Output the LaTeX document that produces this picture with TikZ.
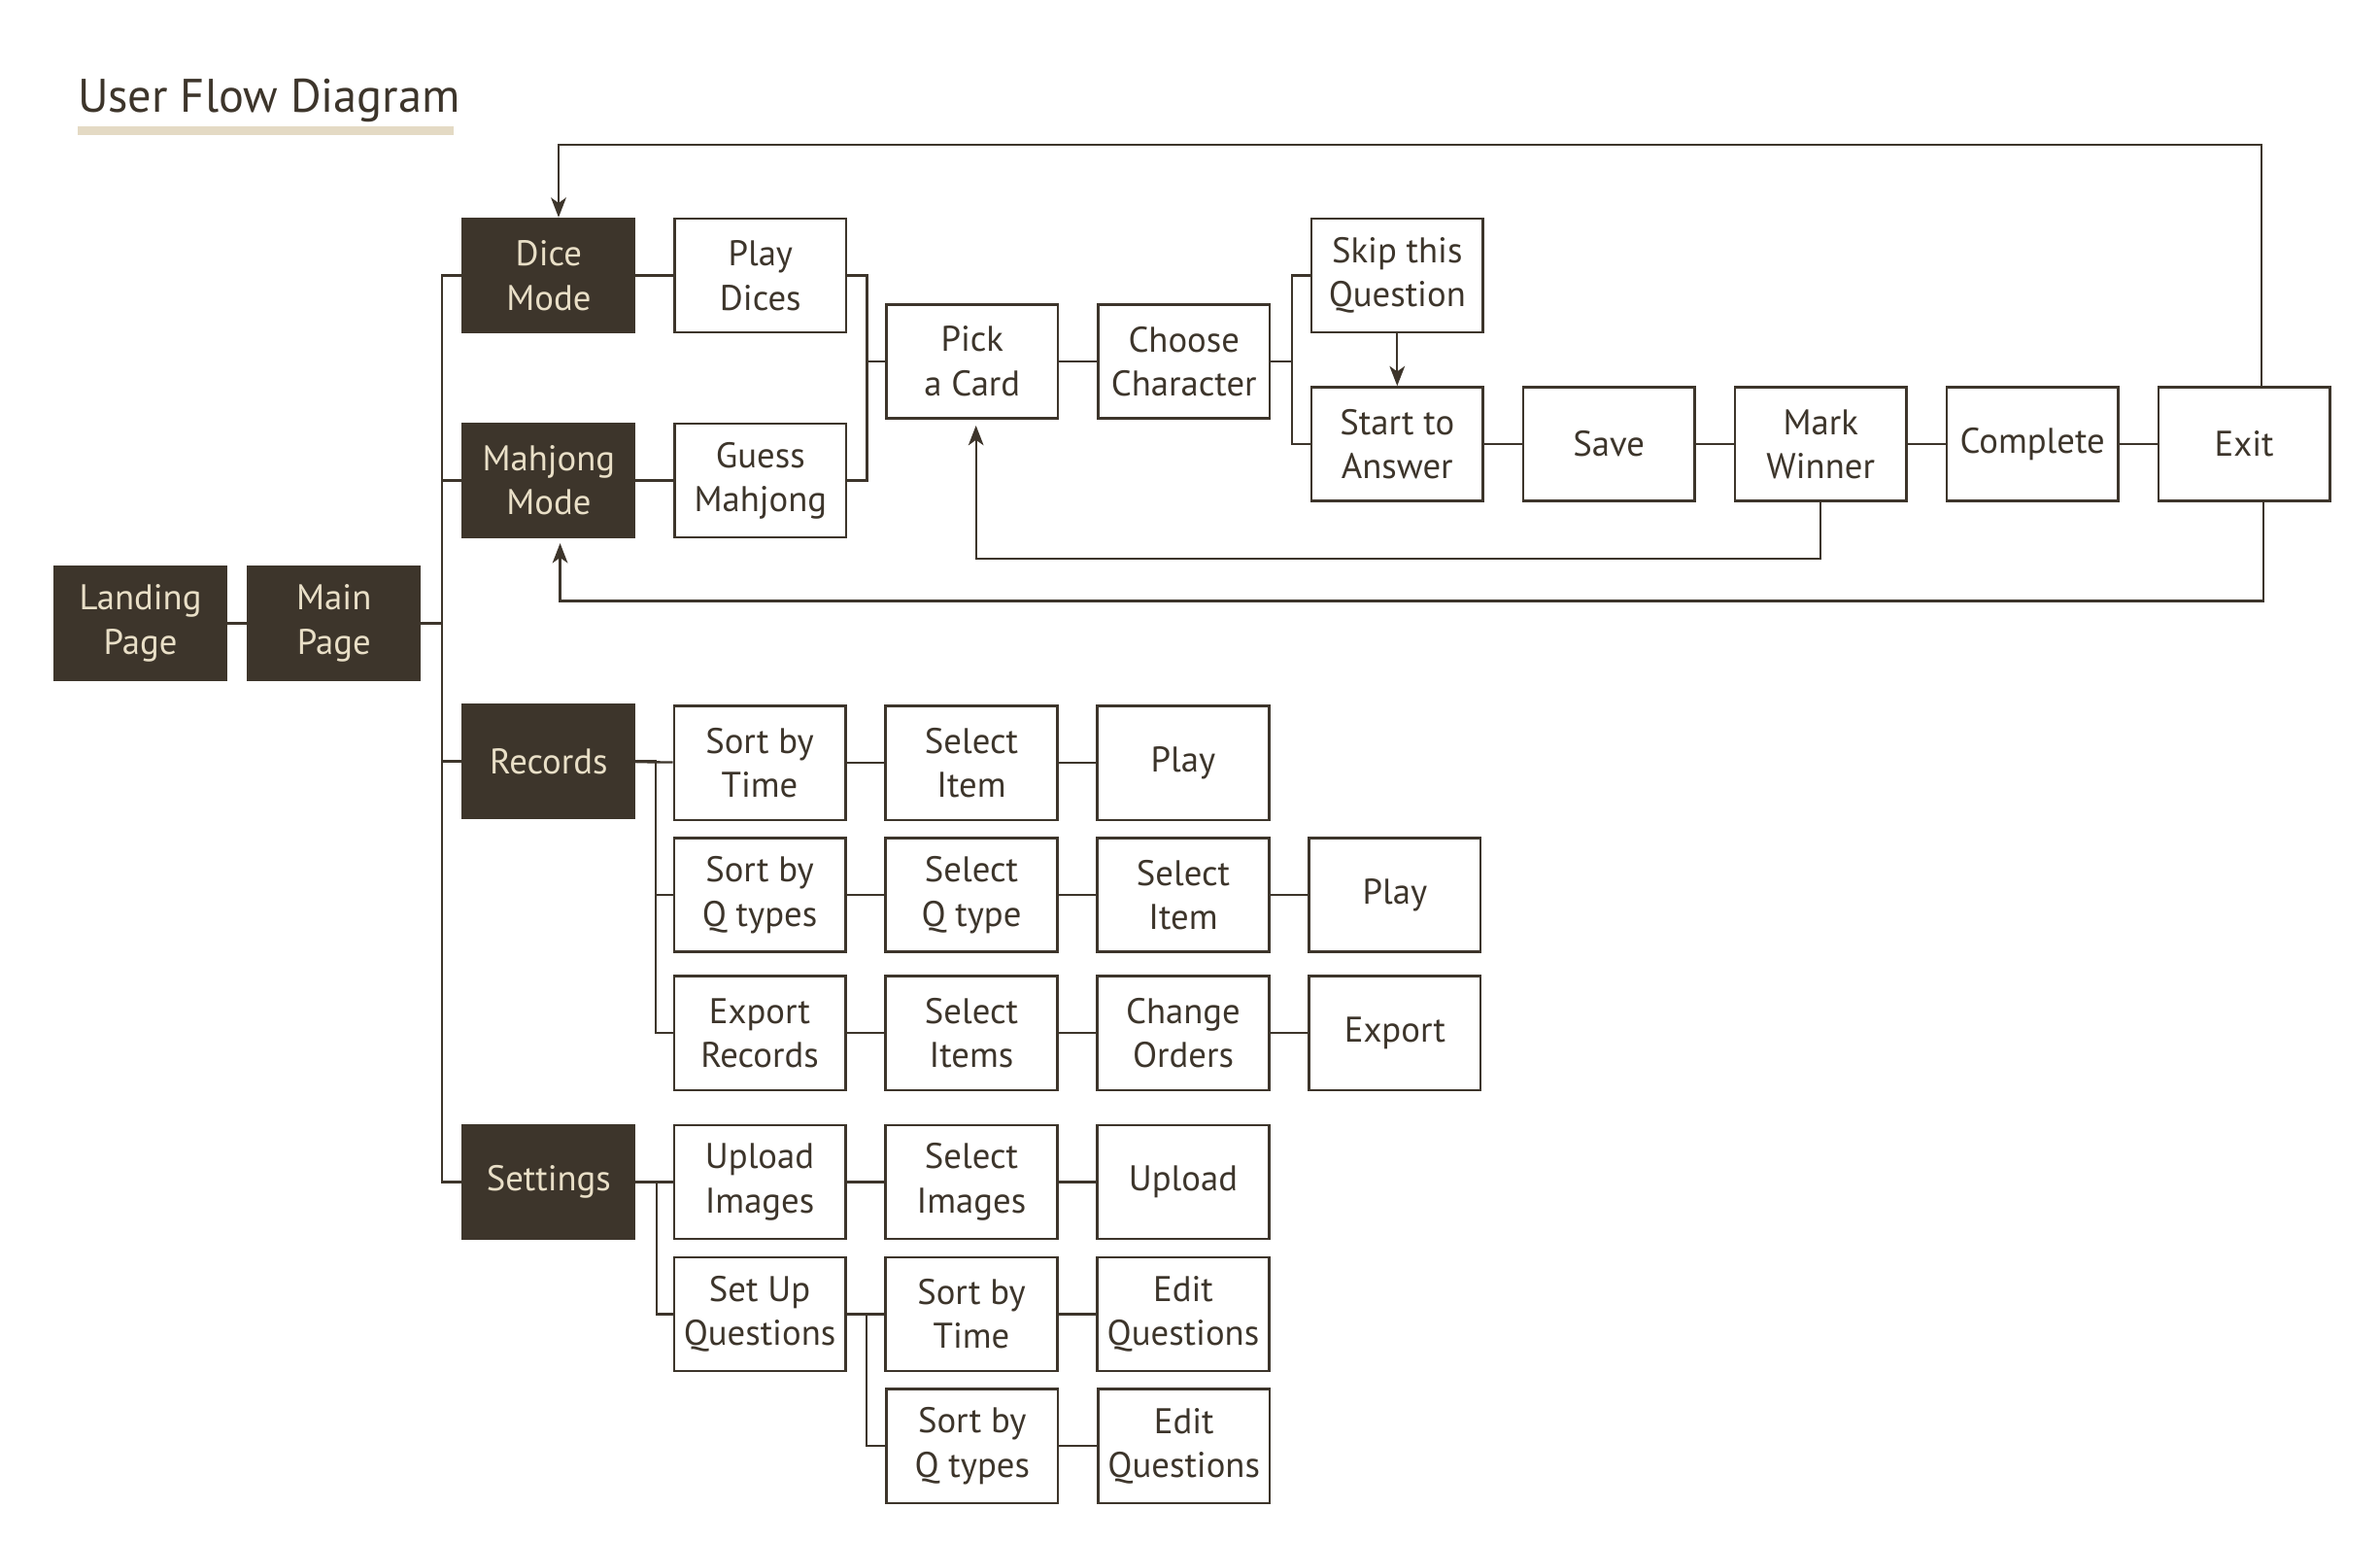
\documentclass[tikz,border=0pt]{standalone}
\usepackage{fontspec}
\setmainfont{PT Sans}
\usetikzlibrary{arrows.meta}

\definecolor{darkbrown}{HTML}{3D352B}
\definecolor{cream}{HTML}{E9DFC7}
\definecolor{sand}{HTML}{E4DAC4}
\newcommand\boxfont{\fontsize{23.5}{29}\selectfont}

\begin{document}
\begin{tikzpicture}[x=1pt, y=-1pt, node distance=139.5pt,
                    dark node/.style={rectangle,draw=darkbrown,fill=darkbrown,text=cream,line width=1.6pt,
                                      minimum width=113pt,minimum height=75pt,inner sep=0pt,align=center,font=\boxfont},
                    light node/.style={dark node,fill=white,text=darkbrown},
                    link/.style={draw=darkbrown,line width=1.5pt},
                    back link/.style={link,-{Stealth[length=13pt,width=10pt,inset=3.5pt]}}]

  \useasboundingbox (0,0) rectangle (1568,1016);

  % title
  \node[anchor=base west,inner sep=0pt,text=darkbrown,font=\fontsize{31}{38}\selectfont] (title) at (51,74) {User Flow Diagram};
  \fill[sand] (51,83) rectangle (299,89);

  % left column
  \node[dark node] (1) at (92.5,410.5) {Landing\\Page};
  \node[dark node] (2) at (220,410.5) {Main\\Page};
  \node[dark node] (3) at (361.5,181.5) {Dice\\Mode};
  \node[dark node] (4) at (361.5,316.5) {Mahjong\\Mode};
  \node[dark node] (5) at (361.5,501.5) {Records};
  \node[dark node] (6) at (361.5,778.5) {Settings};

  % game flow
  \node[light node] (7) [right of=3] {Play\\Dices};
  \node[light node] (8) [right of=4] {Guess\\Mahjong};
  \node[light node] (9) at (640.5,238) {Pick\\a Card};
  \node[light node] (10) [right of=9] {Choose\\Character};
  \node[light node] (11) at (920.5,181.5) {Skip this\\Question};
  \node[light node] (12) at (920.5,292.5) {Start to\\Answer};
  \node[light node] (13) [right of=12] {Save};
  \node[light node] (14) [right of=13] {Mark\\Winner};
  \node[light node] (15) [right of=14] {Complete};
  \node[light node] (16) [right of=15] {Exit};

  % records
  \node[light node] (17) at (500.5,502.5) {Sort by\\Time};
  \node[light node] (18) [right of=17] {Select\\Item};
  \node[light node] (19) [right of=18] {Play};
  \node[light node] (20) at (500.5,589.5) {Sort by\\Q types};
  \node[light node] (21) [right of=20] {Select\\Q type};
  \node[light node] (22) [right of=21] {Select\\Item};
  \node[light node] (23) [right of=22] {Play};
  \node[light node] (24) at (500.5,680.5) {Export\\Records};
  \node[light node] (25) [right of=24] {Select\\Items};
  \node[light node] (26) [right of=25] {Change\\Orders};
  \node[light node] (27) [right of=26] {Export};

  % settings
  \node[light node] (28) at (500.5,778.5) {Upload\\Images};
  \node[light node] (29) [right of=28] {Select\\Images};
  \node[light node] (30) [right of=29] {Upload};
  \node[light node] (31) at (500.5,865.5) {Set Up\\Questions};
  \node[light node] (32) [right of=31] {Sort by\\Time};
  \node[light node] (33) [right of=32] {Edit\\Questions};
  \node[light node] (34) at (640.5,952.5) {Sort by\\Q types};
  \node[light node] (35) [right of=34] {Edit\\Questions};

  \path[link]
    (1) edge (2)
    (3) edge (7)
    (4) edge (8)
    (9) edge (10)
    (12) edge (13)
    (13) edge (14)
    (14) edge (15)
    (15) edge (16)
    (5) edge (17)
    (17) edge (18)
    (18) edge (19)
    (20) edge (21)
    (21) edge (22)
    (22) edge (23)
    (24) edge (25)
    (25) edge (26)
    (26) edge (27)
    (6) edge (28)
    (28) edge (29)
    (29) edge (30)
    (31) edge (32)
    (32) edge (33)
    (34) edge (35);

  % brackets
  \draw[link] (2.east) -- ++(14,0) |- (3.west);
  \draw[link] (2.east) -- ++(14,0) |- (4.west);
  \draw[link] (2.east) -- ++(14,0) |- (5.west);
  \draw[link] (2.east) -- ++(14,0) |- (6.west);
  \draw[link] (7.east) -- ++(13,0) |- (9.west);
  \draw[link] (8.east) -- ++(13,0) |- (9.west);
  \draw[link] (10.east) -- ++(14,0) |- (11.west);
  \draw[link] (10.east) -- ++(14,0) |- (12.west);
  \draw[link] (5.east) -- ++(13,0) |- (20.west);
  \draw[link] (5.east) -- ++(13,0) |- (24.west);
  \draw[link] (6.east) -- ++(14,0) |- (31.west);
  \draw[link] (31.east) -- ++(13,0) |- (34.west);

  % loops back
  \draw[back link] (11) -- (12);
  \draw[back link] ([xshift=11.5pt]16.north) -- ++(0,-159) -| ([xshift=6.5pt]3.north);
  \draw[back link,shorten >=4pt] (14.south) -- ++(0,37) -| ([xshift=2.5pt]9.south);
  \draw[back link,shorten >=3pt] ([xshift=12.5pt]16.south) -- ++(0,65) -| ([xshift=7.5pt]4.south);

\end{tikzpicture}
\end{document}
